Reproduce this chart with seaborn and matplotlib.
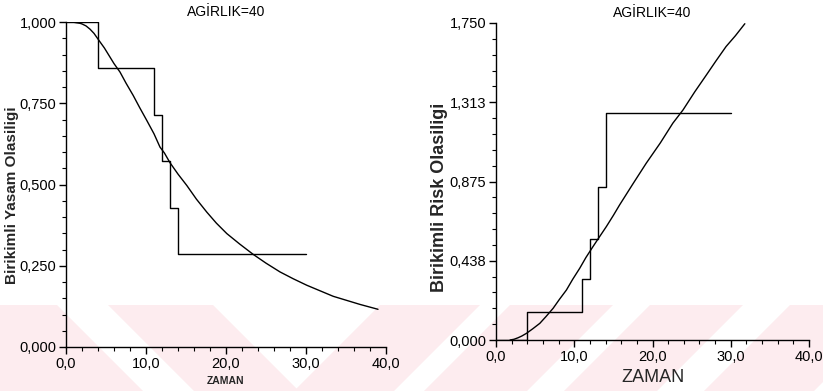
import numpy as np
import pandas as pd
import matplotlib
matplotlib.use("Agg")
import matplotlib.pyplot as plt
from matplotlib.patches import Polygon
from matplotlib.ticker import FixedLocator, MultipleLocator
import seaborn as sns

# ---------------- data ----------------
title_text = "AGİRLIK=40"
x_ticks = [0, 10, 20, 30, 40]
x_ticklabels = ["0,0", "10,0", "20,0", "30,0", "40,0"]
surv_yticks = [0.0, 0.25, 0.5, 0.75, 1.0]
surv_yticklabels = ["0,000", "0,250", "0,500", "0,750", "1,000"]
risk_yticks = [0.0, 0.4375, 0.875, 1.3125, 1.75]
risk_yticklabels = ["0,000", "0,438", "0,875", "1,313", "1,750"]

# Kaplan-Meier step (survival)
km_time = [0, 4, 11, 12, 13, 14, 30]
km_surv = [1.0, 0.857, 0.714, 0.571, 0.429, 0.286, 0.286]

# fitted survival curve
fit_time = [0, 1, 1.75, 2, 2.5, 3, 3.5, 4.1, 4.8, 5.5, 6, 6.75, 7.5, 8.4, 9.2,
            10.1, 11, 11.75, 12.3, 13, 14, 15.1, 16.3, 17.6, 18.8, 20.1, 21.7,
            23.4, 25, 26.75, 28.4, 30.1, 33.4, 36.75, 39]
fit_surv = [1.0, 0.999, 0.996, 0.994, 0.988, 0.978, 0.965, 0.944, 0.92, 0.892,
            0.872, 0.846, 0.812, 0.774, 0.737, 0.697, 0.656, 0.615, 0.597,
            0.567, 0.532, 0.497, 0.455, 0.415, 0.381, 0.349, 0.317, 0.285,
            0.258, 0.231, 0.21, 0.190, 0.156, 0.131, 0.116]

# cumulative hazard step
na_time = [0, 4, 11, 12, 13, 14, 30]
na_risk = [0.0, 0.154, 0.336, 0.560, 0.847, 1.253, 1.253]

# fitted cumulative hazard curve
fitH_time = [1.8, 2.3, 2.8, 3.3, 3.9, 4.7, 5.6, 6.4, 7.3, 8.1, 9.0, 9.8, 10.7,
             11.5, 12.4, 13.2, 14.1, 15.0, 15.8, 17.5, 19.2, 21.0, 22.6, 23.9,
             25.4, 26.9, 28.1, 29.4, 30.6, 31.8]
fitH_risk = [0.0, 0.004, 0.012, 0.022, 0.037, 0.062, 0.092, 0.13, 0.175,
             0.224, 0.276, 0.335, 0.396, 0.456, 0.516, 0.568, 0.626, 0.688,
             0.746, 0.862, 0.976, 1.088, 1.197, 1.27, 1.37, 1.464, 1.54, 1.62,
             1.68, 1.746]

# ---------------- style ----------------
sns.set_style("ticks")
plt.rcParams["font.family"] = ["Liberation Sans", "DejaVu Sans"]

W, H = 823, 391
fig = plt.figure(figsize=(W / 100, H / 100), dpi=100)

# watermark stripes (figure pixel space)
pink = "#fdecef"
y0, y1 = 305, 391
dy = y1 - y0
left_bands = [(-120, 57), (108, 213)]
right_bands = [(380, 480), (510, 613), (650, 743), (790, 900)]
for a, b in left_bands:
    pts = [(a, H - y0), (b, H - y0), (b + dy, H - y1), (a + dy, H - y1)]
    fig.patches.append(Polygon([(px / W, py / H) for px, py in pts],
                               closed=True, transform=fig.transFigure,
                               facecolor=pink, edgecolor="none", zorder=-5))
for a, b in right_bands:
    pts = [(a, H - y0), (b, H - y0), (b - dy, H - y1), (a - dy, H - y1)]
    fig.patches.append(Polygon([(px / W, py / H) for px, py in pts],
                               closed=True, transform=fig.transFigure,
                               facecolor=pink, edgecolor="none", zorder=-5))

ax1 = fig.add_axes([66 / W, (H - 347) / H, 320 / W, 325 / H])
ax2 = fig.add_axes([496 / W, (H - 340) / H, 313 / W, 317 / H])
for ax in (ax1, ax2):
    ax.patch.set_alpha(0)

lw = 1.0
km_df = pd.DataFrame({"t": km_time, "s": km_surv})
fit_df = pd.DataFrame({"t": fit_time, "s": fit_surv})
sns.lineplot(data=km_df, x="t", y="s", ax=ax1, color="black", lw=lw,
             drawstyle="steps-post", estimator=None, sort=False)
sns.lineplot(data=fit_df, x="t", y="s", ax=ax1, color="black", lw=lw,
             estimator=None, sort=False)

na_df = pd.DataFrame({"t": na_time, "h": na_risk})
fitH_df = pd.DataFrame({"t": fitH_time, "h": fitH_risk})
sns.lineplot(data=na_df, x="t", y="h", ax=ax2, color="black", lw=lw,
             drawstyle="steps-post", estimator=None, sort=False)
sns.lineplot(data=fitH_df, x="t", y="h", ax=ax2, color="black", lw=lw,
             estimator=None, sort=False)

def style(ax, yticks, yticklabels, ymax, yminor, tick_fs):
    ax.set_xlim(0, 40)
    ax.set_ylim(0, ymax)
    ax.xaxis.set_major_locator(FixedLocator(x_ticks))
    ax.set_xticklabels(x_ticklabels)
    ax.yaxis.set_major_locator(FixedLocator(yticks))
    ax.set_yticklabels(yticklabels)
    ax.xaxis.set_minor_locator(MultipleLocator(2))
    ax.yaxis.set_minor_locator(MultipleLocator(yminor))
    for side in ("top", "right"):
        ax.spines[side].set_visible(False)
    for side in ("left", "bottom"):
        ax.spines[side].set_linewidth(1.0)
        ax.spines[side].set_color("black")
    ax.tick_params(which="major", direction="out", length=5, width=1.0,
                   colors="black", labelsize=tick_fs, pad=2)
    ax.tick_params(which="minor", direction="out", length=3, width=0.8,
                   colors="black")
    ax.set_title(title_text, fontsize=10, pad=4, color="black")

style(ax1, surv_yticks, surv_yticklabels, 1.0, 0.05, 10.5)
style(ax2, risk_yticks, risk_yticklabels, 1.75, 0.0875, 10.5)

ax1.set_xlabel("ZAMAN", fontsize=7.5, fontweight="bold")
ax1.xaxis.set_label_coords(0.5, (347 - 381) / 325)
ax1.set_ylabel("Birikimli Yasam Olasiligi", fontsize=11, fontweight="bold")
ax1.yaxis.set_label_coords((12 - 66) / 320, (347 - 195) / 325)
ax2.set_xlabel("ZAMAN", fontsize=13)
ax2.xaxis.set_label_coords(0.5, (340 - 377) / 317)
ax2.set_ylabel("Birikimli Risk Olasiligi", fontsize=13, fontweight="bold")
ax2.yaxis.set_label_coords((440 - 496) / 313, (340 - 197) / 317)
for lab in (ax1.xaxis.label, ax2.xaxis.label):
    lab.set_verticalalignment("center")
for lab in (ax1.yaxis.label, ax2.yaxis.label):
    lab.set_verticalalignment("center")

fig.savefig("out.png", dpi=100)
